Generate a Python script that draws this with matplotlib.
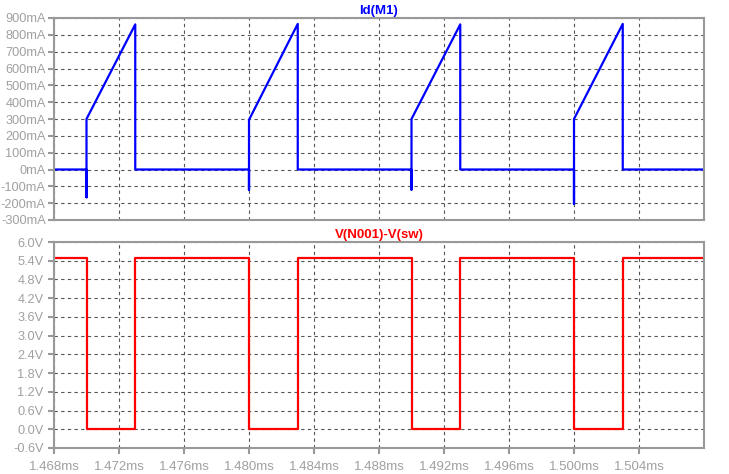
import matplotlib
matplotlib.use('Agg')
import matplotlib.pyplot as plt
import numpy as np
from matplotlib.ticker import FuncFormatter, MultipleLocator, FixedLocator

plt.rcParams['font.family'] = ['Liberation Sans', 'DejaVu Sans']

# switching events (ms)
t_on = [1.470, 1.480, 1.490, 1.500]
t_off = [1.473, 1.483, 1.493, 1.503]
# current at turn-on: negative spike, start of ramp, peak at turn-off (mA)
i_spike = [-165, -122, -120, -205]
i_start = [300, 295, 300, 300]
i_peak = [862, 865, 862, 865]
# gate-source voltage levels (V)
v_high = 5.5
v_low = 0.0
t_start, t_end = 1.468, 1.508
x_ticks = [1.468, 1.472, 1.476, 1.480, 1.484, 1.488, 1.492, 1.496, 1.500, 1.504]

# build the piecewise traces from the events
ti, iv = [t_start], [0]
tv, vv = [t_start], [v_high]
for k in range(len(t_on)):
    ti += [t_on[k], t_on[k], t_on[k], t_on[k], t_off[k], t_off[k]]
    iv += [0, i_spike[k], 0, i_start[k], i_peak[k], 0]
    tv += [t_on[k], t_on[k], t_off[k], t_off[k]]
    vv += [v_high, v_low, v_low, v_high]
ti.append(t_end)
iv.append(0)
tv.append(t_end)
vv.append(v_high)

fig = plt.figure(figsize=(7.29, 4.74), dpi=100)
ax1 = fig.add_axes([54 / 729, 1 - 220 / 474, 650 / 729, 202 / 474])
ax2 = fig.add_axes([54 / 729, 1 - 448 / 474, 650 / 729, 206 / 474])

frame_c = '#999999'
label_c = '#a0a0a0'
grid_c = '#555555'

for ax in (ax1, ax2):
    ax.set_xlim(t_start, t_end)
    ax.xaxis.set_major_locator(FixedLocator(x_ticks))
    ax.grid(True, color=grid_c, linestyle=(0, (3, 3)), linewidth=0.8)
    for s in ax.spines.values():
        s.set_color(frame_c)
        s.set_linewidth(1.5)
    ax.tick_params(colors=frame_c, labelcolor=label_c, labelsize=9.2,
                   length=4, width=1.5, direction='out')
    ax.tick_params(axis='x', pad=5, labelsize=9.5)

ax1.plot(ti, iv, color='#0000ff', linewidth=1.6)
ax1.set_ylim(-300, 900)
ax1.yaxis.set_major_locator(MultipleLocator(100))
ax1.yaxis.set_major_formatter(FuncFormatter(lambda v, p: '%dmA' % round(v)))
ax1.tick_params(axis='y', pad=2)
ax1.tick_params(axis='x', length=0, labelbottom=False)
ax1.set_title('Id(M1)', color='#0000ff', fontsize=9.5, fontweight='bold', pad=3)

ax2.plot(tv, vv, color='#ff0000', linewidth=1.6)
ax2.set_ylim(-0.6, 6.0)
ax2.yaxis.set_major_locator(MultipleLocator(0.6))
ax2.yaxis.set_major_formatter(FuncFormatter(lambda v, p: '%.1fV' % (v + 0.0)))
ax2.xaxis.set_major_formatter(FuncFormatter(lambda v, p: '%.3fms' % v))
ax2.set_title('V(N001)-V(sw)', color='#ff0000', fontsize=9.5, fontweight='bold', pad=3)

fig.savefig('out.png', dpi=100)
